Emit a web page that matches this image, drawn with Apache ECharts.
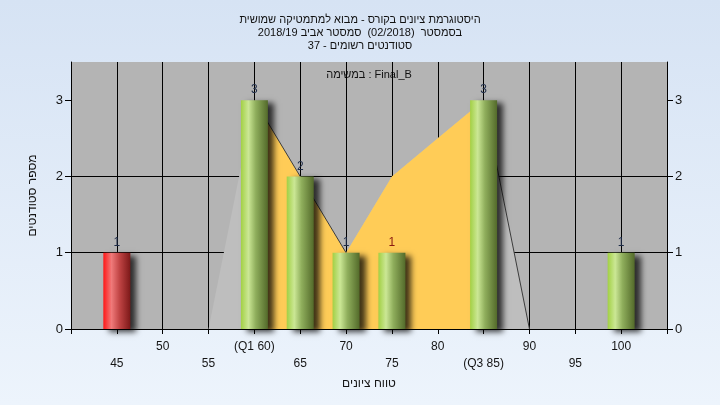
<!DOCTYPE html>
<html dir="rtl">
<head>
<meta charset="utf-8">
<script src="https://cdn.jsdelivr.net/npm/echarts@6/dist/echarts.min.js"></script>
<style>
html,body{margin:0;padding:0;}
#chart{width:720px;height:405px;}
</style>
</head>
<body>
<div id="chart"></div>
<script>
// ---- data ----
const titleLines = [
  'היסטוגרמת ציונים בקורס - מבוא למתמטיקה שמושית',
  'בסמסטר  (02/2018)  סמסטר אביב 2018/19',
  'סטודנטים רשומים - 37'
];
const subTitle = 'Final_B : במשימה';
const yAxisTitle = 'מספר סטודנטים';
const xAxisTitle = 'טווח ציונים';

const scoreBins = [45, 60, 65, 70, 75, 85, 100];
const studentCounts = [1, 3, 2, 1, 1, 3, 1];
const barLabelColors = ['#1e2c48', '#1e2c48', '#1e2c48', '#1e2c48', '#8a1a10', '#1e2c48', '#1e2c48'];
const passScore = 55;

const polyX = [40, 55, 60, 65, 70, 75, 80, 85, 90, 105];
const polyY = [0, 0, 3, 2, 1, 2, 2.5, 3, 0, 0];
const q1 = 60;
const q3 = 85;

const xMin = 40, xMax = 105, xStep = 5;
const yMin = 0, yMax = 3.5, yTicks = [0, 1, 2, 3];
const specialTickLabels = { 60: '(Q1 60)', 85: '(Q3 85)' };

// ---- build ----
const chart = echarts.init(document.getElementById('chart'));

const greenGrad = new echarts.graphic.LinearGradient(0, 0, 1, 0, [
  { offset: 0, color: '#a2d044' },
  { offset: 0.28, color: '#cbe795' },
  { offset: 0.55, color: '#8fae5c' },
  { offset: 1, color: '#536a2a' }
]);
const redGrad = new echarts.graphic.LinearGradient(0, 0, 1, 0, [
  { offset: 0, color: '#ff1717' },
  { offset: 0.3, color: '#f07a7a' },
  { offset: 0.6, color: '#c04444' },
  { offset: 1, color: '#7c1818' }
]);

const polyAll = polyX.map((x, i) => [x, polyY[i]]);
const polyMid = polyAll.filter(p => p[0] >= q1 && p[0] <= q3);

// descending edge runs (dark edge lines)
const edgeRuns = [];
let run = null;
for (let i = 0; i < polyAll.length - 1; i++) {
  if (polyAll[i + 1][1] < polyAll[i][1]) {
    if (!run) { run = [polyAll[i]]; edgeRuns.push(run); }
    run.push(polyAll[i + 1]);
  } else {
    run = null;
  }
}

const barData = scoreBins.map((x, i) => ({
  value: [x, studentCounts[i]],
  itemStyle: { color: x < passScore ? redGrad : greenGrad },
  label: { color: barLabelColors[i] }
}));

const axisTextColor = '#151515';
const fontFam = 'Liberation Sans, DejaVu Sans, sans-serif';

const series = [
  {
    type: 'line', data: polyAll, symbol: 'none', z: 1,
    lineStyle: { width: 0 },
    areaStyle: { color: '#bebebe', opacity: 1 },
    silent: true
  },
  {
    type: 'line', data: polyMid, symbol: 'none', z: 2,
    lineStyle: { width: 0 },
    areaStyle: { color: '#ffcc57', opacity: 1 },
    silent: true
  }
];
edgeRuns.forEach(r => series.push({
  type: 'line', data: r, symbol: 'none', z: 3,
  lineStyle: { width: 1, color: '#3c3c3c' }, silent: true
}));
series.push({
  type: 'bar', data: barData, barWidth: 27, z: 4,
  itemStyle: {
    shadowColor: 'rgba(0,0,0,0.75)', shadowBlur: 6,
    shadowOffsetX: 6, shadowOffsetY: 3
  },
  label: {
    show: true, position: 'top', distance: 4,
    fontSize: 12, fontFamily: fontFam,
    formatter: p => String(p.value[1])
  }
});

const yAxisCommon = {
  type: 'value', min: yMin, max: yMax, interval: 1,
  axisLine: { show: true, lineStyle: { color: '#000', width: 1 } },
  axisTick: { show: true, length: 6, customValues: yTicks, lineStyle: { color: '#000' } },
  axisLabel: {
    color: axisTextColor, fontSize: 13, fontFamily: fontFam, margin: 8,
    customValues: yTicks,
    formatter: v => (Number.isInteger(v) ? String(v) : '')
  }
};

chart.setOption({
  backgroundColor: new echarts.graphic.LinearGradient(0, 0, 0, 1, [
    { offset: 0, color: '#d6e3f4' },
    { offset: 1, color: '#edf4fc' }
  ]),
  animation: false,
  title: {
    text: titleLines.join('\n'),
    left: 'center', top: 8,
    textStyle: { fontSize: 11, fontWeight: 'normal', color: '#111', lineHeight: 13, fontFamily: fontFam }
  },
  graphic: [{
    type: 'text', x: 369, y: 75,
    style: { text: subTitle, textAlign: 'center', textVerticalAlign: 'middle', fontSize: 11, fontFamily: fontFam, fill: '#111' }
  }],
  grid: {
    left: 71, right: 53, top: 62, bottom: 76,
    show: true, backgroundColor: '#b4b4b4', borderWidth: 0
  },
  xAxis: {
    type: 'value', min: xMin, max: xMax, interval: xStep,
    name: xAxisTitle, nameLocation: 'middle', nameGap: 49,
    nameTextStyle: { color: axisTextColor, fontSize: 12, fontFamily: fontFam },
    axisLine: { show: true, onZero: false, lineStyle: { color: '#000', width: 1 } },
    axisTick: { show: true, length: 5, lineStyle: { color: '#000' } },
    splitLine: { show: true, lineStyle: { color: '#000', width: 1 } },
    axisLabel: {
      color: axisTextColor, fontSize: 12, fontFamily: fontFam, margin: 9, lineHeight: 17,
      formatter: v => {
        if (v <= xMin || v >= xMax) return '';
        const txt = specialTickLabels[v] || String(v);
        return ((v / xStep) % 2 === 0) ? txt : '\n' + txt;
      }
    }
  },
  yAxis: [
    Object.assign({}, yAxisCommon, {
      position: 'left',
      name: yAxisTitle, nameLocation: 'middle', nameGap: 32, nameRotate: 90,
      nameTextStyle: { color: axisTextColor, fontSize: 12, fontFamily: fontFam },
      splitLine: { show: true, showMaxLine: false, lineStyle: { color: '#000', width: 1 } }
    }),
    Object.assign({}, yAxisCommon, {
      position: 'right',
      splitLine: { show: false }
    })
  ],
  series: series
});
</script>
</body>
</html>
